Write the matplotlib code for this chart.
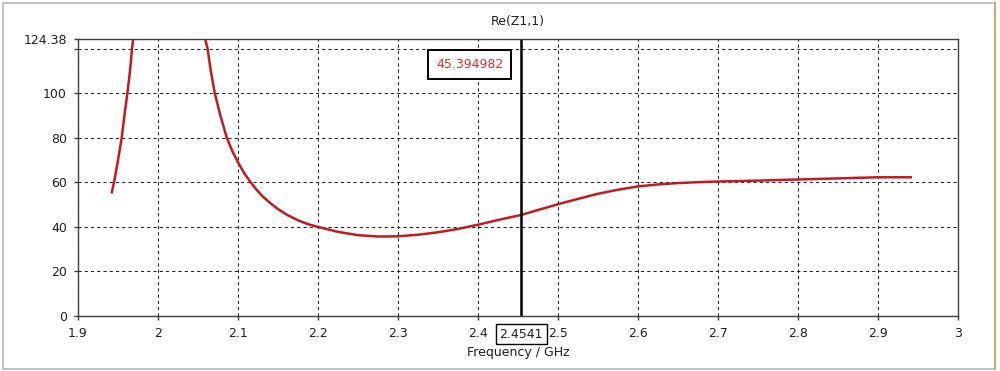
import matplotlib
matplotlib.use("Agg")
import matplotlib.pyplot as plt
from matplotlib.patches import Rectangle

# curve (GHz, ohm)
freq_left = [1.942, 1.945, 1.950, 1.9546, 1.958, 1.9617, 1.965, 1.9675, 1.969]
re_left = [55.0, 60.0, 70.0, 80.0, 90.0, 100.0, 110.0, 120.0, 124.38]

freq_right = [2.059, 2.062, 2.066, 2.071, 2.078, 2.086, 2.093, 2.1, 2.108, 2.116,
              2.123, 2.13, 2.14, 2.15, 2.162, 2.175, 2.187, 2.2,
              2.225, 2.25, 2.275, 2.3, 2.325, 2.35, 2.375, 2.4, 2.425, 2.4541,
              2.475, 2.5, 2.525, 2.55, 2.575, 2.6, 2.625, 2.65, 2.675, 2.7,
              2.75, 2.8, 2.85, 2.9, 2.9425]
re_right = [124.38, 120.0, 110.0, 100.0, 90.0, 80.0, 74.0, 69.0, 64.0, 60.0,
            56.8, 54.0, 50.8, 48.0, 45.3, 43.0, 41.3, 40.0,
            37.8, 36.3, 35.7, 35.8, 36.5, 37.6, 39.1, 41.0, 43.1, 45.39,
            47.6, 50.2, 52.6, 54.9, 56.7, 58.2, 59.1, 59.7, 60.1, 60.4,
            60.8, 61.3, 61.8, 62.3, 62.3]

marker_freq = 2.4541
marker_value = 45.394982

xticks = [1.9, 2.0, 2.1, 2.2, 2.3, 2.4, 2.5, 2.6, 2.7, 2.8, 2.9, 3.0]
xtick_labels = ['1.9', '2', '2.1', '2.2', '2.3', '2.4', '2.5', '2.6', '2.7', '2.8', '2.9', '3']
yticks = [0, 20, 40, 60, 80, 100, 120, 124.38]
ytick_labels = ['0', '20', '40', '60', '80', '100', '', '124.38']

plt.rcParams['font.family'] = ['DejaVu Sans']
plt.rcParams['font.size'] = 9

fig = plt.figure(figsize=(10, 3.71), dpi=100)
ax = fig.add_axes([0.078, 0.1482, 0.88, 0.7466])

red = '#c41a1f'
ax.plot(freq_left, re_left, color=red, lw=1.8, solid_capstyle='butt')
ax.plot(freq_right, re_right, color=red, lw=1.8, solid_capstyle='butt', solid_joinstyle='round')

# marker line
ax.axvline(marker_freq, color='black', lw=1.8)

ax.set_xlim(1.9, 3.0)
ax.set_ylim(0, 124.38)
ax.set_xticks(xticks)
ax.set_xticklabels(xtick_labels)
ax.set_yticks(yticks)
ax.set_yticklabels(ytick_labels)
ax.tick_params(direction='out', length=3, width=1, color='#404040', pad=5, labelcolor='#202020')
ax.grid(True, color='#222222', linestyle=(0, (3, 3)), lw=0.75)

for s in ax.spines.values():
    s.set_color('#404040')
    s.set_linewidth(1)

ax.set_title('Re(Z1,1)', fontsize=9, pad=10, color='#202020')
ax.set_xlabel('Frequency / GHz', fontsize=9, labelpad=4, color='#202020')

# value box near the marker
ax.annotate('%.6f' % marker_value, xy=(marker_freq, 112.8), xytext=(-18, 0),
            textcoords='offset pixels', ha='right', va='center', color='#d0302f',
            fontsize=9, bbox=dict(boxstyle='square,pad=0.65', fc='white', ec='black', lw=1.4))

# frequency box on the x axis
ax.annotate('%.4f' % marker_freq, xy=(marker_freq, 0), xytext=(0, -18),
            textcoords='offset pixels', ha='center', va='center', color='#202020',
            fontsize=9, annotation_clip=False,
            bbox=dict(boxstyle='square,pad=0.3', fc='white', ec='black', lw=1))

# window border
fig.patches.append(Rectangle((0.003, 0.006), 0.992, 0.986, transform=fig.transFigure,
                             fill=False, ec='#b8b8b8', lw=1.2))
fig.add_artist(plt.Line2D([0.995, 0.995], [0.006, 0.992], transform=fig.transFigure,
                          color='#c9a77a', lw=1.5))

fig.savefig('out.png', dpi=100)
